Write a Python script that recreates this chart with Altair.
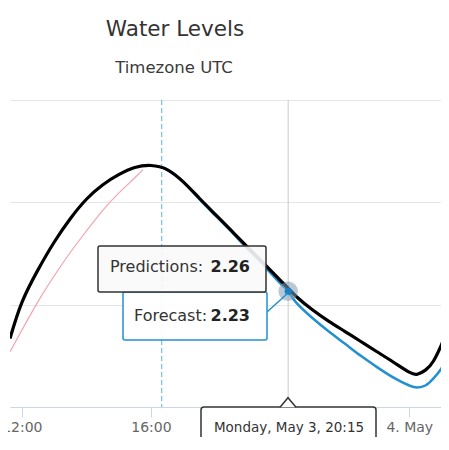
import altair as alt
import pandas as pd
from datetime import datetime

# ---- data (UTC, 2021-05-03/04) ----
pred_times = ["2021-05-03T11:38:00Z", "2021-05-03T12:00:00Z", "2021-05-03T12:30:00Z", "2021-05-03T13:00:00Z",
              "2021-05-03T13:30:00Z", "2021-05-03T14:00:00Z", "2021-05-03T14:30:00Z", "2021-05-03T15:00:00Z",
              "2021-05-03T15:30:00Z", "2021-05-03T16:00:00Z", "2021-05-03T16:30:00Z", "2021-05-03T17:00:00Z",
              "2021-05-03T17:30:00Z", "2021-05-03T18:00:00Z", "2021-05-03T18:30:00Z", "2021-05-03T19:00:00Z",
              "2021-05-03T19:30:00Z", "2021-05-03T20:00:00Z", "2021-05-03T20:15:00Z", "2021-05-03T20:30:00Z",
              "2021-05-03T21:00:00Z", "2021-05-03T21:30:00Z", "2021-05-03T22:00:00Z", "2021-05-03T22:30:00Z",
              "2021-05-03T23:00:00Z", "2021-05-03T23:30:00Z", "2021-05-04T00:00:00Z", "2021-05-04T00:15:00Z",
              "2021-05-04T00:30:00Z", "2021-05-04T00:45:00Z", "2021-05-04T01:00:00Z", "2021-05-04T01:08:00Z"]
pred_values = [1.77, 2.12, 2.44, 2.71, 2.94, 3.13, 3.27, 3.37, 3.44, 3.46, 3.42, 3.30, 3.14, 2.98, 2.82, 2.66,
               2.50, 2.34, 2.26, 2.18, 2.05, 1.94, 1.84, 1.74, 1.64, 1.54, 1.44, 1.42, 1.46, 1.55, 1.71, 1.81]

fc_times = ["2021-05-03T16:20:00Z", "2021-05-03T16:30:00Z", "2021-05-03T17:00:00Z", "2021-05-03T17:30:00Z",
            "2021-05-03T18:00:00Z", "2021-05-03T18:30:00Z", "2021-05-03T19:00:00Z", "2021-05-03T19:30:00Z",
            "2021-05-03T20:00:00Z", "2021-05-03T20:15:00Z", "2021-05-03T20:30:00Z", "2021-05-03T21:00:00Z",
            "2021-05-03T21:30:00Z", "2021-05-03T22:00:00Z", "2021-05-03T22:30:00Z", "2021-05-03T23:00:00Z",
            "2021-05-03T23:30:00Z", "2021-05-04T00:00:00Z", "2021-05-04T00:15:00Z", "2021-05-04T00:30:00Z",
            "2021-05-04T00:45:00Z", "2021-05-04T01:00:00Z", "2021-05-04T01:08:00Z"]
fc_values = [3.44, 3.42, 3.30, 3.13, 2.97, 2.81, 2.64, 2.48, 2.31, 2.23, 2.12, 1.97, 1.84, 1.72, 1.60, 1.49,
             1.39, 1.31, 1.29, 1.31, 1.38, 1.48, 1.58]

obs_times = ["2021-05-03T11:38:00Z", "2021-05-03T12:00:00Z", "2021-05-03T12:30:00Z", "2021-05-03T13:00:00Z",
             "2021-05-03T13:30:00Z", "2021-05-03T14:00:00Z", "2021-05-03T14:30:00Z", "2021-05-03T15:00:00Z",
             "2021-05-03T15:30:00Z", "2021-05-03T15:45:00Z"]
obs_values = [1.64, 1.85, 2.13, 2.38, 2.61, 2.82, 3.02, 3.19, 3.34, 3.42]

now_time = "2021-05-03T16:20:00Z"
hover_time = "2021-05-03T20:15:00Z"
hover_pred = 2.26
hover_fc = 2.23
x_tick_times = [(2021, 5, 3, 12), (2021, 5, 3, 16), (2021, 5, 3, 20), (2021, 5, 4, 0)]
y_grid_values = [1.1, 2.1, 3.1, 4.1]

# ---- tables ----
pred_df = pd.DataFrame({"t": pred_times, "v": pred_values})
fc_df = pd.DataFrame({"t": fc_times, "v": fc_values})
obs_df = pd.DataFrame({"t": obs_times, "v": obs_values})
now_df = pd.DataFrame({"t": [now_time]})
hover_label = datetime.strptime(hover_time, "%Y-%m-%dT%H:%M:%SZ").strftime("%A, %b %-d, %H:%M")
hover_df = pd.DataFrame({"t": [hover_time], "pred": [hover_pred], "fc": [hover_fc], "label": [hover_label]})
one = pd.DataFrame({"a": [0]})

FONT = "DejaVu Sans"
BLUE = "#2390d0"

xscale = alt.Scale(type="utc",
                   domain=[alt.DateTime(year=2021, month=5, date=3, hours=11, minutes=38, utc=True),
                           alt.DateTime(year=2021, month=5, date=4, hours=0, minutes=59, utc=True)])
yscale = alt.Scale(domain=[1.1, 4.1], nice=False, zero=False)

xaxis = alt.Axis(
    values=[alt.DateTime(year=y, month=m, date=d, hours=h, utc=True) for (y, m, d, h) in x_tick_times],
    labelExpr="utcFormat(datum.value, '%H') == '00' ? utcFormat(datum.value, '%-d. %b') : utcFormat(datum.value, '%H:%M')",
    tickSize=10, tickColor="#ccd6eb", domainColor="#ccd6eb", labelColor="#666666",
    labelFontSize=14, labelFont=FONT, grid=False, labelPadding=3, labelFlush=False,
    labelOverlap=False, title=None)
yaxis = alt.Axis(values=y_grid_values, labels=False, ticks=False, domain=False,
                 gridColor="#e6e6e6", title=None)

X = alt.X("t:T", scale=xscale, axis=xaxis)
Y = alt.Y("v:Q", scale=yscale, axis=yaxis)

now_rule = alt.Chart(now_df).mark_rule(color="#5ab4de", strokeDash=[5, 3], strokeWidth=1).encode(x=X)
cross = alt.Chart(hover_df).mark_rule(color="#cccccc", strokeWidth=1).encode(x=X)

obs_line = alt.Chart(obs_df).mark_line(color="#f2a4ad", strokeWidth=1.2, interpolate="natural",
                                       clip=True).encode(x=X, y=Y)
fc_line = alt.Chart(fc_df).mark_line(color=BLUE, strokeWidth=2.5, interpolate="natural",
                                     clip=True).encode(x=X, y=Y)
pred_line = alt.Chart(pred_df).mark_line(color="#000000", strokeWidth=3.2, interpolate="natural",
                                         clip=True).encode(x=X, y=Y)

halo = alt.Chart(hover_df).mark_circle(size=380, color="#7f9fb5", opacity=0.55).encode(
    x=X, y=alt.Y("fc:Q", scale=yscale, axis=yaxis))
dot = alt.Chart(hover_df).mark_circle(size=50, color="#1a7fc0", opacity=1).encode(
    x=X, y=alt.Y("fc:Q", scale=yscale, axis=yaxis))

# tooltip chrome
connector = alt.Chart(one).mark_rule(color=BLUE, strokeWidth=1.5).encode(
    x=alt.value(257), x2=alt.value(278), y=alt.value(212), y2=alt.value(193))
fc_box = alt.Chart(one).mark_rect(fill="white", fillOpacity=0.9, stroke=BLUE, strokeWidth=1.5,
                                  cornerRadius=2).encode(
    x=alt.value(113), x2=alt.value(257), y=alt.value(192), y2=alt.value(240))
pred_box = alt.Chart(one).mark_rect(fill="#fafafa", fillOpacity=0.9, stroke="#333333", strokeWidth=1.5,
                                    cornerRadius=2).encode(
    x=alt.value(88), x2=alt.value(256), y=alt.value(146), y2=alt.value(192))
pred_lbl = alt.Chart(one).mark_text(align="left", baseline="alphabetic", font=FONT, fontSize=16,
                                    color="#333333").encode(
    x=alt.value(100), y=alt.value(172), text=alt.value("Predictions:"))
pred_val = alt.Chart(hover_df).mark_text(align="right", baseline="alphabetic", font=FONT, fontSize=16,
                                         fontWeight="bold", color="#222222").encode(
    x=alt.value(240), y=alt.value(172), text=alt.Text("pred:Q", format=".2f"))
fc_lbl = alt.Chart(one).mark_text(align="left", baseline="alphabetic", font=FONT, fontSize=16,
                                  color="#333333").encode(
    x=alt.value(124), y=alt.value(221), text=alt.value("Forecast:"))
fc_val = alt.Chart(hover_df).mark_text(align="right", baseline="alphabetic", font=FONT, fontSize=16,
                                       fontWeight="bold", color="#222222").encode(
    x=alt.value(240), y=alt.value(221), text=alt.Text("fc:Q", format=".2f"))

date_box = alt.Chart(one).mark_rect(fill="white", stroke="#333333", strokeWidth=1.5, cornerRadius=3).encode(
    x=alt.value(191), x2=alt.value(366), y=alt.value(307), y2=alt.value(352))
date_arrow = alt.Chart(one).mark_point(shape="M-1,0.6L0,-0.6L1,0.6", filled=True, fill="white",
                                       stroke="#333333", strokeWidth=1.5, size=256, opacity=1).encode(
    x=alt.value(278), y=alt.value(302.5))
date_txt = alt.Chart(hover_df).mark_text(align="center", baseline="alphabetic", font=FONT, fontSize=13.5,
                                         color="#333333").encode(
    x=alt.value(279), y=alt.value(332), text="label:N")

title = alt.Chart(one).mark_text(align="center", baseline="alphabetic", font=FONT, fontSize=21.5,
                                 color="#333333").encode(
    x=alt.value(165), y=alt.value(-64), text=alt.value("Water Levels"))
subtitle = alt.Chart(one).mark_text(align="center", baseline="alphabetic", font=FONT, fontSize=16.5,
                                    color="#3a3a3a").encode(
    x=alt.value(164), y=alt.value(-27), text=alt.value("Timezone UTC"))

chart = alt.layer(
    now_rule, cross, obs_line, fc_line, pred_line, halo, dot,
    connector, fc_box, pred_box, pred_lbl, pred_val, fc_lbl, fc_val,
    date_box, date_arrow, date_txt, title, subtitle
).properties(
    width=431, height=307,
    autosize=alt.AutoSizeParams(type="none"),
    padding={"left": 2, "top": 92, "right": 0, "bottom": 30},
).configure_view(stroke=None)

chart.save("out.html", embed_options={"renderer": "svg", "actions": False})
